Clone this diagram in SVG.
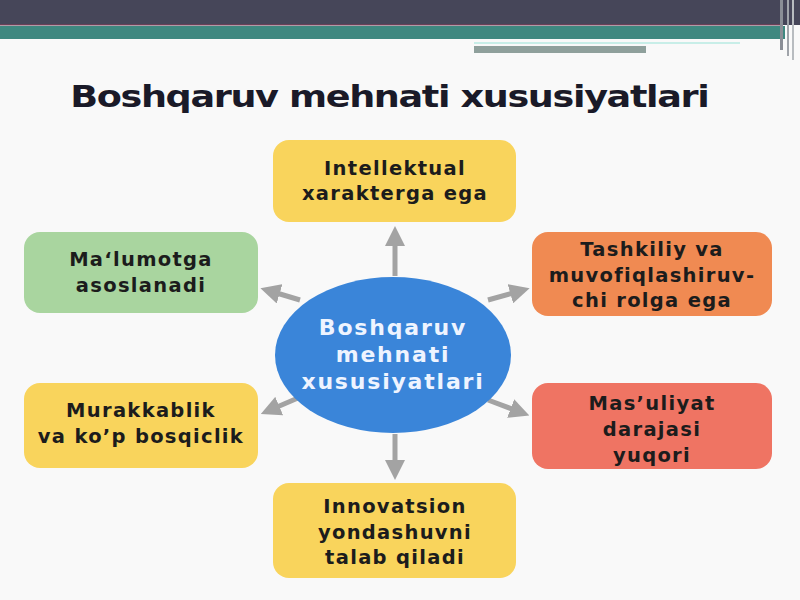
<svg xmlns="http://www.w3.org/2000/svg" width="800" height="600" viewBox="0 0 800 600">
<defs>
<marker id="ah" markerWidth="4" markerHeight="4" refX="2" refY="2" orient="auto" markerUnits="strokeWidth">
<path d="M0,0 L4,2 L0,4 z" fill="#a3a3a3"/>
</marker>
<style>
.t{font-family:"DejaVu Sans",Verdana,sans-serif;font-weight:bold;font-size:19.5px;letter-spacing:1.3px;fill:#1c1c1c;text-anchor:middle}
.c{font-family:"DejaVu Sans",Verdana,sans-serif;font-weight:bold;font-size:22px;letter-spacing:1.8px;fill:#eef4ff;text-anchor:middle}
.a{stroke:#a3a3a3;stroke-width:5;fill:none;marker-end:url(#ah)}
</style>
</defs>
<rect width="800" height="600" fill="#f9f9f9"/>
<g id="header">
<rect x="0" y="0" width="800" height="25" fill="#464659"/>
<rect x="0" y="24" width="780" height="1.5" fill="#6b3f57"/>
<rect x="0" y="26" width="785" height="13" fill="#3f8880"/>
<rect x="474" y="42" width="266" height="2" fill="#c8eee8"/>
<rect x="474" y="46" width="172" height="7" fill="#8fa09c"/>
<rect x="780" y="0" width="3" height="50" fill="#8a8e96"/>
<rect x="787" y="0" width="2" height="56" fill="#a0a4aa"/>
<rect x="792" y="0" width="2" height="60" fill="#b8bcc0"/>
</g>
<g transform="translate(390,107) scale(1.18,1)">
<text x="0" y="0" font-family="DejaVu Sans,Verdana,sans-serif" font-weight="bold" font-size="31" fill="#1a1a28" text-anchor="middle" textLength="542" lengthAdjust="spacing">Boshqaruv mehnati xususiyatlari</text>
</g>
<g id="connectors">
<line class="a" x1="395" y1="276" x2="395" y2="236"/>
<line class="a" x1="395" y1="434" x2="395" y2="470"/>
<line class="a" x1="300" y1="300" x2="270" y2="291"/>
<line class="a" x1="488" y1="300" x2="520" y2="291"/>
<line class="a" x1="298" y1="398" x2="270" y2="410"/>
<line class="a" x1="488" y1="400" x2="520" y2="412"/>
</g>
<g id="center">
<ellipse cx="393" cy="355" rx="118" ry="78" fill="#3a85d9"/>
<text class="c" x="393" y="335">Boshqaruv</text>
<text class="c" x="393" y="362">mehnati</text>
<text class="c" x="393" y="389">xususiyatlari</text>
</g>
<g id="n-top">
<rect x="273" y="140" width="243" height="82" rx="16" fill="#f9d45c"/>
<text class="t" x="395" y="175">Intellektual</text>
<text class="t" x="395" y="200">xarakterga ega</text>
</g>
<g id="n-lefttop">
<rect x="24" y="232" width="234" height="81" rx="16" fill="#a9d59f"/>
<text class="t" x="141" y="266">Ma‘lumotga</text>
<text class="t" x="141" y="292">asoslanadi</text>
</g>
<g id="n-righttop">
<rect x="532" y="232" width="240" height="84" rx="16" fill="#f08a52"/>
<text class="t" x="652" y="256">Tashkiliy va</text>
<text class="t" x="652" y="282">muvofiqlashiruv-</text>
<text class="t" x="652" y="307">chi rolga ega</text>
</g>
<g id="n-leftbottom">
<rect x="24" y="383" width="234" height="85" rx="16" fill="#f9d45c"/>
<text class="t" x="141" y="417">Murakkablik</text>
<text class="t" x="141" y="443">va ko’p bosqiclik</text>
</g>
<g id="n-rightbottom">
<rect x="532" y="383" width="240" height="86" rx="16" fill="#ef7463"/>
<text class="t" x="652" y="410">Mas’uliyat</text>
<text class="t" x="652" y="436">darajasi</text>
<text class="t" x="652" y="462">yuqori</text>
</g>
<g id="n-bottom">
<rect x="273" y="483" width="243" height="95" rx="16" fill="#f9d45c"/>
<text class="t" x="395" y="513">Innovatsion</text>
<text class="t" x="395" y="539">yondashuvni</text>
<text class="t" x="395" y="564">talab qiladi</text>
</g>
</svg>
